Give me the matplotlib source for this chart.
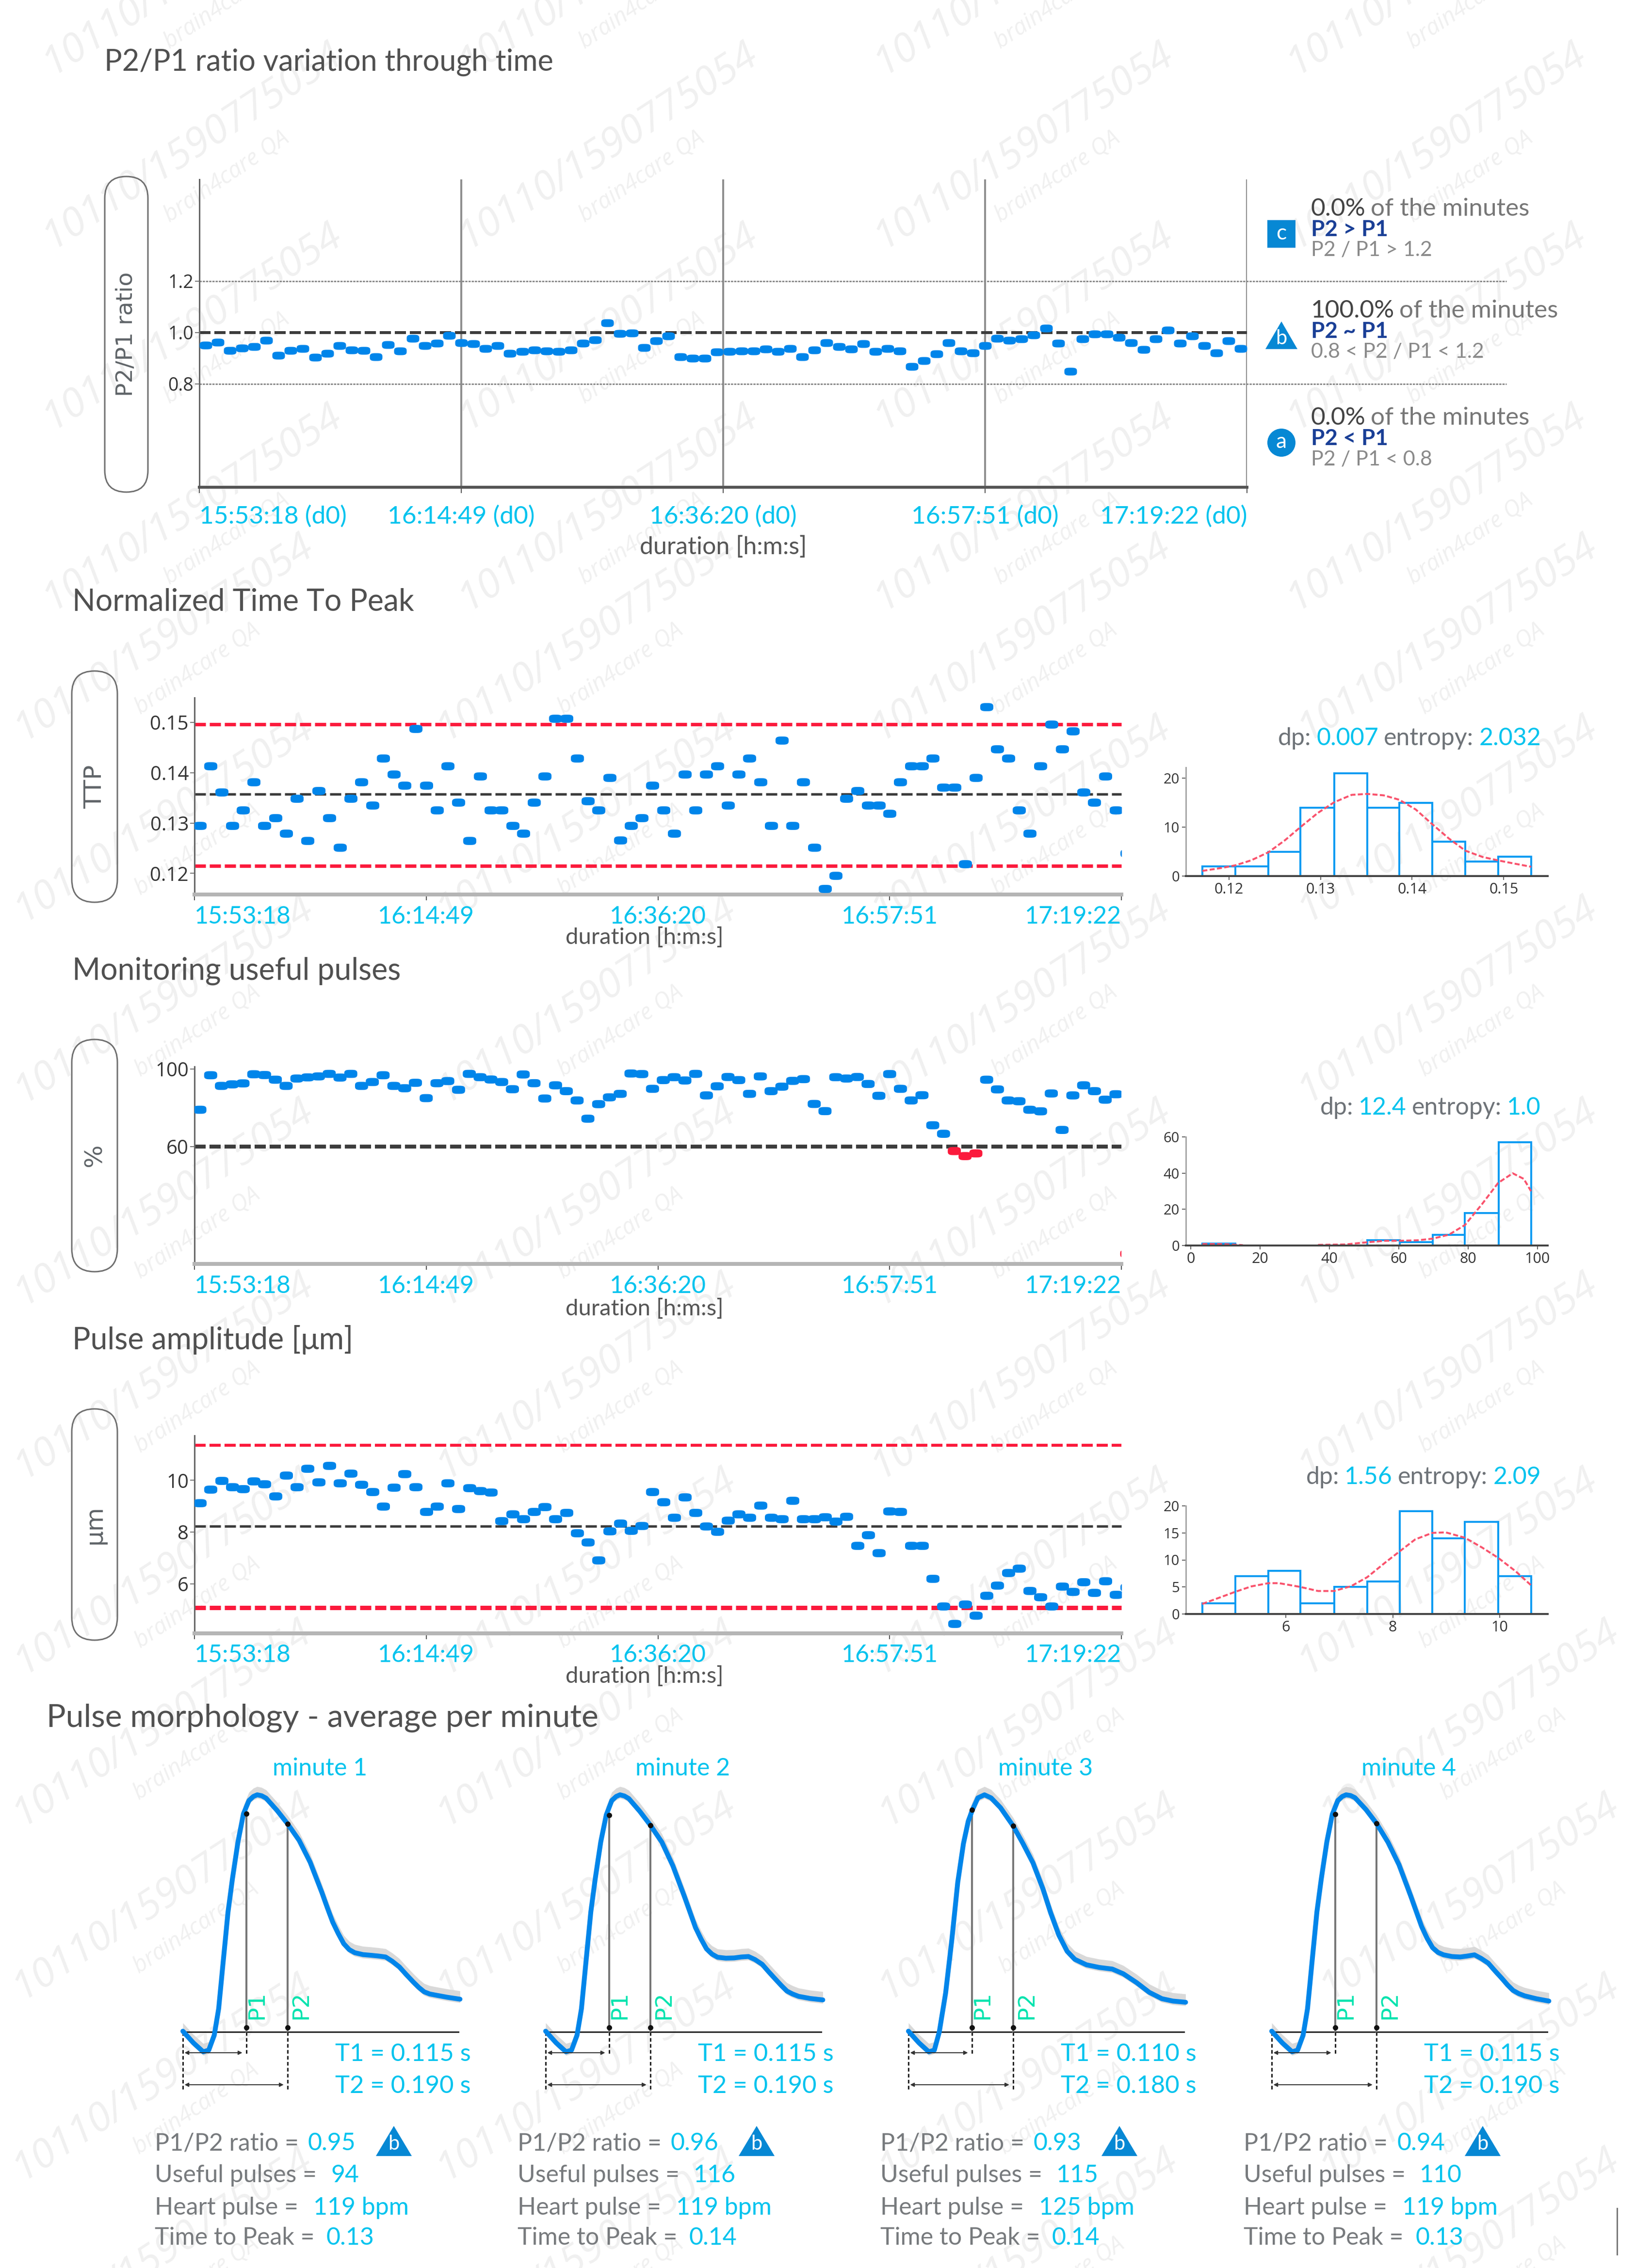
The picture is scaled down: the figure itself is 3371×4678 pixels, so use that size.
import numpy as np
import matplotlib
matplotlib.use("Agg")
import matplotlib.pyplot as plt
from matplotlib.markers import MarkerStyle
from matplotlib.patches import Circle, FancyBboxPatch, Polygon, Rectangle
from matplotlib.path import Path

W, H, DPI = 3371, 4678, 100

BLUE = "#0085ea"
RED = "#fb1a3c"
CYAN = "#00c3ee"
GREY = "#5f6468"
TICK = "#333333"

# minutes since start are the x axis of the three time panels
TIME_TICKS = [0, 21.5, 43, 64.5, 86]
TIME_LABELS = ["15:53:18", "16:14:49", "16:36:20", "16:57:51", "17:19:22"]

ratio = [0.951, 0.963, 0.930, 0.940, 0.946, 0.970, 0.911, 0.930, 0.938, 0.903, 0.918, 0.948, 0.932, 0.930, 0.905,
         0.953, 0.929, 0.977, 0.948, 0.959, 0.988, 0.961, 0.957, 0.938, 0.948, 0.918, 0.927, 0.932, 0.929, 0.926,
         0.932, 0.958, 0.972, 1.038, 0.996, 0.998, 0.941, 0.967, 0.986, 0.905, 0.899, 0.900, 0.925, 0.927, 0.929,
         0.929, 0.935, 0.927, 0.938, 0.905, 0.932, 0.961, 0.946, 0.935, 0.956, 0.927, 0.938, 0.929, 0.867, 0.891,
         0.916, 0.961, 0.929, 0.920, 0.948, 0.978, 0.970, 0.975, 0.991, 1.016, 0.959, 0.848, 0.975, 0.995, 0.995,
         0.981, 0.961, 0.934, 0.975, 1.009, 0.958, 0.987, 0.948, 0.920, 0.967, 0.938]

ttp = [.1295, .1413, .1361, .1295, .1326, .1381, .1295, .1310, .1279, .1349, .1265, .1364, .1310, .1251, .1349,
       .1381, .1335, .1429, .1397, .1375, .1487, .1375, .1326, .1413, .1341, .1265, .1393, .1326, .1326, .1295,
       .1279, .1341, .1393, .1508, .1508, .1429, .1344, .1326, .1390, .1266, .1295, .1310, .1375, .1326, .1279,
       .1397, .1326, .1397, .1413, .1335, .1397, .1429, .1381, .1295, .1464, .1295, .1381, .1251, .1170, .1196,
       .1349, .1364, .1335, .1335, .1319, .1381, .1413, .1413, .1429, .1371, .1371, .1219, .1390, .1531, .1447,
       .1429, .1326, .1279, .1413, .1496, .1447, .1483, .1361, .1341, .1393, .1326, .1240]

useful = [79.0, 96.8, 91.3, 92.1, 92.6, 97.3, 96.9, 94.5, 91.3, 95.1, 95.7, 96.2, 97.5, 95.6, 97.5,
          91.3, 93.3, 96.8, 91.3, 90.1, 92.9, 85.0, 92.7, 93.8, 89.3, 97.5, 95.8, 94.6, 93.3, 89.6,
          97.2, 92.7, 84.8, 91.6, 88.6, 83.8, 74.4, 81.9, 85.4, 87.2, 97.7, 97.4, 89.8, 94.3, 95.8,
          94.1, 97.5, 86.4, 91.1, 95.9, 94.3, 87.2, 96.2, 88.6, 90.9, 93.9, 94.8, 82.0, 78.3, 95.8,
          95.1, 95.9, 92.3, 86.2, 97.4, 89.8, 83.8, 86.5, 71.0, 66.6, 57.7, 55.1, 56.5, 94.5, 89.5,
          83.8, 83.4, 79.0, 78.2, 87.4, 68.6, 86.4, 91.6, 88.6, 84.2, 87.0, 4.7]

amplitude = [9.13, 9.64, 9.99, 9.75, 9.67, 9.97, 9.85, 9.39, 10.20, 9.74, 10.45, 9.93, 10.56, 9.89, 10.26,
             9.84, 9.56, 9.00, 9.73, 10.24, 9.74, 8.78, 9.00, 9.89, 8.90, 9.71, 9.60, 9.53, 8.43, 8.69,
             8.50, 8.78, 8.97, 8.50, 8.74, 7.97, 7.61, 6.91, 8.04, 8.34, 8.06, 8.25, 9.56, 9.17, 8.56,
             9.34, 8.74, 8.23, 8.02, 8.44, 8.69, 8.56, 9.03, 8.56, 8.50, 9.22, 8.50, 8.50, 8.58, 8.41,
             8.60, 7.47, 7.88, 7.20, 8.81, 8.78, 7.47, 7.47, 6.20, 5.13, 4.46, 5.21, 4.78, 5.54, 5.93,
             6.43, 6.59, 5.73, 5.49, 5.13, 5.89, 5.70, 6.07, 5.65, 6.11, 5.58, 5.86]

# histograms
ttp_edges = [.1171, .1207, .1243, .1278, .1315, .1351, .1386, .1422, .1458, .1494, .1530]
ttp_counts = [2, 2, 5, 14, 21, 14, 15, 7, 3, 4]
ttp_kde_x = [.1171, .1194, .1207, .1224, .1243, .1261, .1278, .1297, .1315, .1334, .1351, .1369, .1386, .1404,
             .1422, .1440, .1458, .1477, .1494, .1513, .1530]
ttp_kde_y = [1.06, 1.72, 2.2, 3.2, 4.85, 7.3, 10, 12.9, 15.1, 16.6, 16.8, 16.5, 15.6, 13.6, 10.6, 7.7, 5.2, 3.9,
             3.2, 2.5, 1.9]

useful_edges = [3.3, 12.8, 22.3, 31.8, 41.2, 50.9, 60.3, 69.8, 79.1, 88.8, 98.2]
useful_counts = [1, 0, 0, 0, 0, 3, 2, 6, 18, 57]
useful_kde_x = [3.3, 9.4, 15, np.nan, 36.7, 44.7, 50.9, 56, 60.2, 65.6, 69.8, 74.5, 79.1, 84.1, 88.7, 92.9, 96.1,
                98.2]
useful_kde_y = [0.8, 0.8, 0.2, np.nan, 0.36, 0.6, 1.8, 2.6, 2.6, 2.9, 3.8, 6, 11.3, 23, 34.6, 39.9, 36.8, 30]

amp_edges = [4.43, 5.05, 5.67, 6.27, 6.90, 7.52, 8.13, 8.74, 9.35, 9.97, 10.59]
amp_counts = [2, 7, 8, 2, 5, 6, 19, 14, 17, 7]
amp_kde_x = [4.43, 5.05, 5.35, 5.67, 5.87, 6.27, 6.60, 6.90, 7.22, 7.52, 7.85, 8.13, 8.42, 8.74, 8.99, 9.35, 9.67,
             9.97, 10.30, 10.59]
amp_kde_y = [1.85, 4.1, 5.1, 5.7, 5.7, 5.0, 4.25, 4.25, 5.15, 6.8, 9.45, 11.6, 13.8, 15.0, 15.1, 14.1, 12.3, 10.4,
             7.9, 5.3]

# pulse morphology, time in seconds and normalised amplitude
pulse_t_a = [0, .019, .037, .047, .057, .065, .072, .082, .090, .100, .110, .120, .128, .135, .143, .151, .171, .190,
             .211, .231, .252, .262, .272, .282, .292, .302, .312, .327, .342, .355, .368, .380, .393, .405, .418,
             .428, .438, .448, .459, .480, .503]
pulse_t_b = [0, .019, .037, .047, .056, .0675, .079, .0895, .0998, .1086, .116, .126, .138, .150, .167, .190, .208,
             .226, .244, .258, .273, .288, .302, .323, .346, .370, .390, .414, .437, .460, .480, .503]
pulse_t = [pulse_t_a, pulse_t_a, pulse_t_b, pulse_t_a]
pulse_y = [
    [.003, -.046, -.084, -.077, -.014, .098, .267, .506, .646, .801, .920, .976, .993, 1.0, .996, .986, .934, .878,
     .808, .716, .590, .525, .463, .415, .372, .347, .334, .326, .323, .320, .316, .298, .274, .243, .211, .188, .169,
     .160, .155, .146, .138],
    [.003, -.046, -.084, -.077, -.014, .098, .267, .506, .646, .801, .915, .976, .993, 1.0, .995, .984, .930, .872,
     .800, .700, .570, .505, .440, .392, .350, .328, .315, .311, .312, .316, .318, .305, .285, .253, .220, .195, .172,
     .160, .150, .141, .135],
    [.003, -.046, -.084, -.077, 0, .164, .394, .631, .794, .889, .936, .987, 1.0, .987, .946, .869, .794, .713,
     .604, .503, .408, .340, .306, .283, .272, .265, .245, .208, .167, .140, .130, .125],
    [.003, -.046, -.084, -.077, -.014, .098, .267, .506, .646, .801, .918, .976, .993, 1.0, .997, .988, .938, .880,
     .800, .705, .575, .510, .445, .395, .355, .335, .325, .318, .316, .320, .325, .310, .290, .258, .225, .198, .175,
     .162, .152, .140, .130],
]
pulse_p1 = [.115, .115, .115, .115]
pulse_p2 = [.190, .190, .190, .190]
pulse_p1_y = [.920, .915, .936, .918]
pulse_p2_y = [.878, .872, .869, .880]
minutes = ["minute 1", "minute 2", "minute 3", "minute 4"]
t1_text = ["0.115", "0.115", "0.110", "0.115"]
t2_text = ["0.190", "0.190", "0.180", "0.190"]
stat_ratio = ["0.95", "0.96", "0.93", "0.94"]
stat_useful = ["94", "116", "115", "110"]
stat_heart = ["119 bpm", "119 bpm", "125 bpm", "119 bpm"]
stat_peak = ["0.13", "0.14", "0.14", "0.13"]
pulse_x0 = [377, 1125, 1873, 2622]

plt.rcParams["font.family"] = ["Lato", "DejaVu Sans"]
fig = plt.figure(figsize=(W / DPI, H / DPI), dpi=DPI, facecolor="white")
renderer = fig.canvas.get_renderer()


def px(n):
    return n * 72 / DPI


def px_axes(left, top, right, bottom):
    return fig.add_axes([left / W, 1 - bottom / H, (right - left) / W, (bottom - top) / H], facecolor="none")


# overlay in picture pixels, for the titles and the small furniture
bg = fig.add_axes([0, 0, 1, 1], facecolor="none")
bg.set_xlim(0, W)
bg.set_ylim(H, 0)
bg.axis("off")


def label(x, y, text, size, color=GREY, ha="left", va="center", **kw):
    return bg.text(x, y, text, fontsize=size, color=color, ha=ha, va=va, **kw)


def chain(x, y, parts, size, gap=12, right=False):
    items = [label(x, y, text, size, color) for text, color in parts]
    widths = [t.get_window_extent(renderer).width for t in items]
    if right:
        x -= sum(widths) + gap * (len(parts) - 1)
    for t, w in zip(items, widths):
        t.set_x(x)
        x += w + gap


def watermarks(top, bottom, xs, ys):
    clip = Rectangle((0, top), W, bottom - top, transform=bg.transData)
    for y in ys:
        for x in xs:
            a = bg.text(x * 2.985, y * 2.985, "10110/1590775054", fontsize=60, style="italic", color="#f0f0f0",
                        rotation=33, ha="center", va="center", rotation_mode="anchor", family="Open Sans", zorder=0)
            b = bg.text(x * 2.985 + 70, y * 2.985 + 67, "brain4care QA", fontsize=34, style="italic", color="#f0f0f0",
                        rotation=34, ha="center", va="center", rotation_mode="anchor", family="Open Sans", zorder=0)
            a.set_clip_path(clip)
            b.set_clip_path(clip)


# block by block, in the page's own tiling (positions in preview units)
watermarks(0, 1190, [133, 420, 707, 992], [-20, 100, 225, 350])
watermarks(1190, 1970, [113, 405, 705, 1000], [440, 565])
watermarks(1970, 2730, [113, 405, 705, 1000], [690, 830])
watermarks(2730, 3480, [113, 405, 705, 1000], [950, 1085])
watermarks(3480, H, [112, 405, 710, 1015], [1190, 1310, 1435, 1555])


def pill(left, top, right, bottom, text, size, family="DejaVu Sans"):
    bg.add_patch(FancyBboxPatch((left, top), right - left, bottom - top,
                                boxstyle=f"round,pad=0,rounding_size={(right - left) / 2}",
                                fc="none", ec="#6f6f6f", lw=px(3)))
    label((left + right) / 2, (top + bottom) / 2, text, size, ha="center", rotation=90, family=family)


theta = np.linspace(0, 2 * np.pi, 60)
blob = Path(np.column_stack([np.sign(np.cos(theta)) * np.abs(np.cos(theta)) ** 0.6,
                             0.62 * np.sign(np.sin(theta)) * np.abs(np.sin(theta)) ** 0.6]))
dot = MarkerStyle(blob)


def time_axes(box, ylim, yticks, ylabels, spine="#b5b5b5", spine_w=8, size=29):
    ax = px_axes(*box)
    ax.set_xlim(0, 86)
    ax.set_ylim(*ylim)
    for side in ("top", "right"):
        ax.spines[side].set_visible(False)
    ax.spines["left"].set_color("#666666")
    ax.spines["left"].set_linewidth(px(3))
    ax.spines["bottom"].set_color(spine)
    ax.spines["bottom"].set_linewidth(px(spine_w))
    ax.set_xticks(TIME_TICKS)
    ax.set_xticklabels([])
    ax.set_yticks(yticks)
    ax.set_yticklabels(ylabels, family="Open Sans", fontsize=size, color=TICK)
    ax.tick_params(axis="x", length=px(12), width=px(2), color="#555555")
    ax.tick_params(axis="y", length=px(9), width=px(2), color="#777777", pad=px(3))
    return ax


def time_labels(box, y_labels, y_duration, suffix="", size=36, center=1329, dur_size=34):
    left, right = box[0], box[2]
    for i, (tick, text) in enumerate(zip(TIME_TICKS, TIME_LABELS)):
        x = left + (right - left) * tick / 86
        ha = "left" if i == 0 else "right" if i == 4 else "center"
        label(x, y_labels, text + suffix, size, CYAN, ha=ha)
    label(center, y_duration, "duration [h:m:s]", dur_size, "#555555", ha="center")


def hline(ax, y, color, width, xmax=86):
    ax.plot([0, xmax], [y, y], color=color, lw=px(width), dashes=(23 / width, 8 / width), clip_on=False,
            solid_capstyle="butt", dash_capstyle="butt", zorder=2)


def scatter_minutes(ax, values, size=27, low=None):
    y = np.array(values)
    x = np.arange(len(y)) + 0.5
    colors = BLUE if low is None else np.where(y < low, RED, BLUE)
    ax.scatter(x, y, marker=dot, s=px(size) ** 2, c=colors, linewidths=0, zorder=3)


# P2/P1 panel
box1 = (411, 370, 2571, 1005)
ax1 = time_axes(box1, (0.398, 1.596), [0.8, 1.0, 1.2], ["0.8", "1.0", "1.2"], spine="#555555", spine_w=6, size=27)
ax1.vlines(TIME_TICKS[1:], 0.398, 1.596, color="#8e8e8e", lw=px(4), zorder=1)
hline(ax1, 1.0, "#3c3c3c", 6)
for level in (0.8, 1.2):
    ax1.plot([0, 107.3], [level, level], color="#8a8a8a", lw=px(3), dashes=(1.5, 0.7), clip_on=False, zorder=1)
scatter_minutes(ax1, ratio, size=26)
pill(216, 364, 305, 1015, "P2/P1 ratio", 34)
time_labels(box1, 1065, 1129, " (d0)", size=37, center=1491, dur_size=36)
label(215, 128, "P2/P1 ratio variation through time", 44, "#505050")

LEG_X = 2703
for i, (pct, bold, rule, y0) in enumerate([("0.0%", "P2 > P1", "P2 / P1 > 1.2", 431),
                                           ("100.0%", "P2 ~ P1", "0.8 < P2 / P1 < 1.2", 641),
                                           ("0.0%", "P2 < P1", "P2 / P1 < 0.8", 862)]):
    chain(LEG_X, y0, [(pct, "#444444"), ("of the minutes", "#777777")], 37, gap=10)
    label(LEG_X, y0 + 43, bold, 33, "#1a3f96", weight="bold")
    label(LEG_X, y0 + 85, rule, 31, "#8a8a8a")
bg.add_patch(Rectangle((2613, 454), 58, 57, fc="#0788d4", ec="none"))
label(2642, 482, "c", 32, "white", ha="center")
bg.add_patch(Polygon([(2642, 663), (2675, 720), (2609, 720)], fc="#0788d4", ec="none"))
label(2642, 698, "b", 30, "white", ha="center")
bg.add_patch(Circle((2642, 913), 29, fc="#0788d4", ec="none"))
label(2642, 911, "a", 32, "white", ha="center")

# time to peak panel
box2 = (401, 1439, 2312, 1845)
ax2 = time_axes(box2, (0.1158, 0.1549), [.12, .13, .14, .15], ["0.12", "0.13", "0.14", "0.15"])
hline(ax2, .1496, RED, 7)
hline(ax2, .1215, RED, 7)
hline(ax2, .1357, "#3c3c3c", 5)
scatter_minutes(ax2, ttp)
pill(148, 1384, 242, 1861, "TTP", 36)
time_labels(box2, 1891, 1933)
label(149, 1242, "Normalized Time To Peak", 45, "#505050")

# useful pulses panel
box3 = (401, 2200, 2312, 2607)
ax3 = time_axes(box3, (-0.5, 101.25), [60, 100], ["60", "100"])
hline(ax3, 60, "#3c3c3c", 8)
scatter_minutes(ax3, useful, low=60)
pill(148, 2144, 242, 2623, "%", 36)
time_labels(box3, 2653, 2699)
label(149, 2003, "Monitoring useful pulses", 45, "#505050")

# amplitude panel
box4 = (401, 2961, 2312, 3369)
ax4 = time_axes(box4, (4.08, 11.73), [6, 8, 10], ["6", "8", "10"])
hline(ax4, 11.35, RED, 6)
hline(ax4, 5.08, RED, 9)
hline(ax4, 8.22, "#3c3c3c", 5)
scatter_minutes(ax4, amplitude)
pill(148, 2906, 242, 3383, "μm", 36)
time_labels(box4, 3414, 3457)
label(149, 2764, "Pulse amplitude [μm]", 45, "#505050")


def histogram(box, xlim, ylim, edges, counts, kde_x, kde_y, xticks, yticks, xlabels=None):
    ax = px_axes(*box)
    ax.set_xlim(*xlim)
    ax.set_ylim(*ylim)
    ax.bar(edges[:-1], counts, width=np.diff(edges), align="edge", facecolor="none", edgecolor="#0a9bf2", lw=px(4))
    ax.plot(kde_x, kde_y, color="#f9526c", lw=px(4), dashes=(2.6, 1.2))
    for side in ("top", "right"):
        ax.spines[side].set_visible(False)
    ax.spines["left"].set_color("#a8a8a8")
    ax.spines["left"].set_linewidth(px(3))
    ax.spines["bottom"].set_color("#444444")
    ax.spines["bottom"].set_linewidth(px(4))
    ax.set_xticks(xticks)
    ax.set_xticklabels(xlabels or [str(t) for t in xticks], family="Open Sans", fontsize=22, color=TICK)
    ax.set_yticks(yticks)
    ax.set_yticklabels([str(t) for t in yticks], family="Open Sans", fontsize=21, color=TICK)
    ax.tick_params(length=px(8), width=px(2), color="#666666", pad=px(5))


histogram((2445, 1583, 3191, 1807), (.1153, .1548), (0, 22.2), np.array(ttp_edges), ttp_counts, ttp_kde_x, ttp_kde_y,
          [.12, .13, .14, .15], [0, 10, 20])
histogram((2445, 2345, 3191, 2569), (-1.45, 103), (0, 60), np.array(useful_edges), useful_counts, useful_kde_x,
          useful_kde_y, [0, 20, 40, 60, 80, 100], [0, 20, 40, 60])
histogram((2445, 3106, 3191, 3329), (4.125, 10.9), (0, 20), np.array(amp_edges), amp_counts, amp_kde_x, amp_kde_y,
          [6, 8, 10], [0, 5, 10, 15, 20])

for y0, dp, entropy in [(1523, "0.007", "2.032"), (2285, "12.4", "1.0"), (3047, "1.56", "2.09")]:
    chain(3177, y0, [("dp:", "#6e7378"), (dp, CYAN), ("entropy:", "#6e7378"), (entropy, CYAN)], 36, gap=11, right=True)

# pulse morphology
label(96, 3543, "Pulse morphology - average per minute", 47.5, "#505050")
SCALE_T = 1136
AMP = 489
for i, x0 in enumerate(pulse_x0):
    ax = px_axes(x0 - 10, 3680, x0 + 590, 4330)
    ax.set_xlim(-10 / SCALE_T, 590 / SCALE_T)
    ax.set_ylim((4191 - 4330) / AMP, (4191 - 3680) / AMP)
    ax.axis("off")
    t, y = np.array(pulse_t[i]), np.array(pulse_y[i])
    ax.fill_between(t, y - 0.015, y + 0.035, color="#d9d9d9", lw=0, zorder=1)
    p1, p2 = pulse_p1[i], pulse_p2[i]
    ax.plot([0, .5], [0, 0], color="#222222", lw=px(3), zorder=2)
    ax.plot([p1, p1], [0, pulse_p1_y[i]], color="#777777", lw=px(4), zorder=2)
    ax.plot([p2, p2], [0, pulse_p2_y[i]], color="#777777", lw=px(4), zorder=2)
    ax.plot(t, y, color=BLUE, lw=px(10), solid_joinstyle="round", solid_capstyle="round", zorder=3)
    ax.scatter([p1, p2, p1, p2], [pulse_p1_y[i], pulse_p2_y[i], 0.018, 0.018], s=px(11) ** 2, c="#111111", zorder=4,
               linewidths=0)
    for xv, low in [(0, -.245), (p1, -.1), (p2, -.245)]:
        ax.plot([xv, xv], [0, low], color="#222222", lw=px(3), dashes=(2.5, 1.6), zorder=2)
    for yv, end in [(-.088, p1 - .007), (-.223, p2 - .007)]:
        ax.annotate("", xy=(end, yv), xytext=(.003, yv),
                    arrowprops=dict(arrowstyle="<|-|>", color="#333333", lw=px(2), mutation_scale=12, shrinkA=0,
                                    shrinkB=0))
    ax.text(.135, .053, "P1", rotation=90, fontsize=34, color="#00e3ae", ha="center", va="bottom", family="DejaVu Sans")
    ax.text(.215, .053, "P2", rotation=90, fontsize=34, color="#00e3ae", ha="center", va="bottom", family="DejaVu Sans")

    label(x0 + 283, 3648, minutes[i], 36, CYAN, ha="center")
    label(x0 + 314, 4237, f"T1 = {t1_text[i]} s", 36.5, CYAN)
    label(x0 + 314, 4303, f"T2 = {t2_text[i]} s", 36.5, CYAN)

    tx = x0 - 58
    for y0, name, value, vx in [(4421, "P1/P2 ratio =", stat_ratio[i], 316), (4487, "Useful pulses =", stat_useful[i], 363),
                                (4554, "Heart pulse =", stat_heart[i], 327), (4616, "Time to Peak =", stat_peak[i], 354)]:
        label(tx, y0, name, 36, "#777a7d")
        label(tx + vx, y0, value, 36, CYAN)
    bg.add_patch(Polygon([(tx + 493, 4385), (tx + 530, 4447), (tx + 456, 4447)], fc="#0788d4", ec="none"))
    label(tx + 493, 4422, "b", 30, "white", ha="center")

# stray edge mark at the bottom right of the page
bg.plot([3334, 3334], [4555, 4650], color="#777777", lw=px(3))

fig.savefig("out.png", dpi=DPI, facecolor="white")
